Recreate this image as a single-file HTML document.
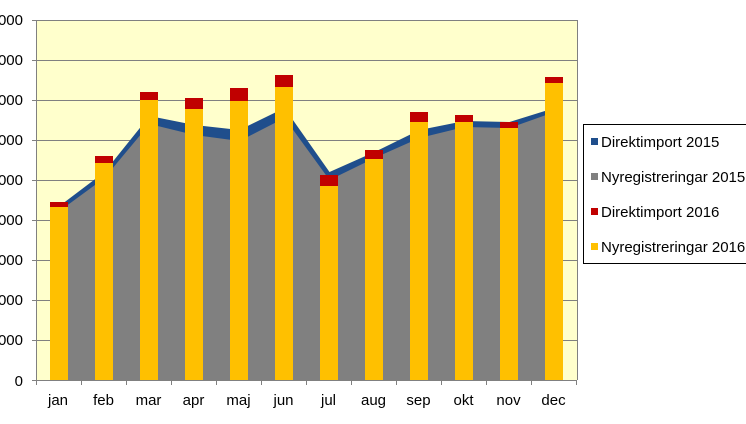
<!DOCTYPE html><html><head><style>body{margin:0;background:#fff;width:746px;height:419px;overflow:hidden}</style></head><body>
<svg width="746" height="419" xmlns="http://www.w3.org/2000/svg" font-family="Liberation Sans, Arial, sans-serif" font-size="14">
<rect x="37" y="20" width="540" height="360" fill="#ffffcc"/>
<g stroke="#808080" stroke-width="1">
<line x1="37" x2="577" y1="20.5" y2="20.5"/><line x1="37" x2="577" y1="60.5" y2="60.5"/><line x1="37" x2="577" y1="100.5" y2="100.5"/><line x1="37" x2="577" y1="140.5" y2="140.5"/><line x1="37" x2="577" y1="180.5" y2="180.5"/><line x1="37" x2="577" y1="220.5" y2="220.5"/><line x1="37" x2="577" y1="260.5" y2="260.5"/><line x1="37" x2="577" y1="300.5" y2="300.5"/><line x1="37" x2="577" y1="340.5" y2="340.5"/>
</g>
<polygon fill="#1f4e8c" points="59.5,380 59.5,206 104.5,172 149.5,116 194.5,125 239.5,130 284.5,108 329.5,172 374.5,152 419.5,130 464.5,121 509.5,122 554.5,108 554.5,380"/>
<polygon fill="#808080" points="59.5,380 59.5,211 104.5,178 149.5,124 194.5,135 239.5,141 284.5,118 329.5,180 374.5,158 419.5,138 464.5,127 509.5,128 554.5,112 554.5,380"/>
<g>
<rect x="50" y="202" width="18" height="178" fill="#c00000"/><rect x="50" y="207" width="18" height="173" fill="#ffc000"/>
<rect x="95" y="156" width="18" height="224" fill="#c00000"/><rect x="95" y="163" width="18" height="217" fill="#ffc000"/>
<rect x="140" y="92" width="18" height="288" fill="#c00000"/><rect x="140" y="100" width="18" height="280" fill="#ffc000"/>
<rect x="185" y="98" width="18" height="282" fill="#c00000"/><rect x="185" y="109" width="18" height="271" fill="#ffc000"/>
<rect x="230" y="88" width="18" height="292" fill="#c00000"/><rect x="230" y="101" width="18" height="279" fill="#ffc000"/>
<rect x="275" y="75" width="18" height="305" fill="#c00000"/><rect x="275" y="87" width="18" height="293" fill="#ffc000"/>
<rect x="320" y="175" width="18" height="205" fill="#c00000"/><rect x="320" y="186" width="18" height="194" fill="#ffc000"/>
<rect x="365" y="150" width="18" height="230" fill="#c00000"/><rect x="365" y="159" width="18" height="221" fill="#ffc000"/>
<rect x="410" y="112" width="18" height="268" fill="#c00000"/><rect x="410" y="122" width="18" height="258" fill="#ffc000"/>
<rect x="455" y="115" width="18" height="265" fill="#c00000"/><rect x="455" y="122" width="18" height="258" fill="#ffc000"/>
<rect x="500" y="122" width="18" height="258" fill="#c00000"/><rect x="500" y="128" width="18" height="252" fill="#ffc000"/>
<rect x="545" y="77" width="18" height="303" fill="#c00000"/><rect x="545" y="83" width="18" height="297" fill="#ffc000"/>
</g>
<g stroke="#808080" stroke-width="1">
<line x1="36.5" y1="20" x2="36.5" y2="385"/><line x1="32" y1="380.5" x2="577" y2="380.5"/>
<line x1="577.5" y1="20" x2="577.5" y2="380"/>
<line x1="32" x2="37" y1="20.5" y2="20.5"/><line x1="32" x2="37" y1="60.5" y2="60.5"/><line x1="32" x2="37" y1="100.5" y2="100.5"/><line x1="32" x2="37" y1="140.5" y2="140.5"/><line x1="32" x2="37" y1="180.5" y2="180.5"/><line x1="32" x2="37" y1="220.5" y2="220.5"/><line x1="32" x2="37" y1="260.5" y2="260.5"/><line x1="32" x2="37" y1="300.5" y2="300.5"/><line x1="32" x2="37" y1="340.5" y2="340.5"/>
<line x1="81.5" x2="81.5" y1="380" y2="385"/><line x1="126.5" x2="126.5" y1="380" y2="385"/><line x1="171.5" x2="171.5" y1="380" y2="385"/><line x1="216.5" x2="216.5" y1="380" y2="385"/><line x1="261.5" x2="261.5" y1="380" y2="385"/><line x1="306.5" x2="306.5" y1="380" y2="385"/><line x1="351.5" x2="351.5" y1="380" y2="385"/><line x1="396.5" x2="396.5" y1="380" y2="385"/><line x1="441.5" x2="441.5" y1="380" y2="385"/><line x1="486.5" x2="486.5" y1="380" y2="385"/><line x1="531.5" x2="531.5" y1="380" y2="385"/><line x1="576.5" x2="576.5" y1="380" y2="385"/>
</g>
<g text-anchor="end" font-size="15">
<text x="23" y="25">90000</text><text x="23" y="65">80000</text><text x="23" y="105">70000</text><text x="23" y="145">60000</text><text x="23" y="185">50000</text><text x="23" y="225">40000</text><text x="23" y="265">30000</text><text x="23" y="305">20000</text><text x="23" y="345">10000</text><text x="23" y="386">0</text>
</g>
<g text-anchor="middle" font-size="15">
<text x="58" y="405">jan</text><text x="103.5" y="405">feb</text><text x="148.5" y="405">mar</text><text x="193.5" y="405">apr</text><text x="238.5" y="405">maj</text><text x="283.5" y="405">jun</text><text x="328.5" y="405">jul</text><text x="373.5" y="405">aug</text><text x="418.5" y="405">sep</text><text x="463.5" y="405">okt</text><text x="508.5" y="405">nov</text><text x="553.5" y="405">dec</text>
</g>
<rect x="583.5" y="124.5" width="170" height="139" fill="#fff" stroke="#000"/>
<g font-size="15">
<rect x="591" y="138" width="7" height="7" fill="#1f4e8c"/><text x="601" y="147">Direktimport 2015</text>
<rect x="591" y="173" width="7" height="7" fill="#808080"/><text x="601" y="182">Nyregistreringar 2015</text>
<rect x="591" y="208" width="7" height="7" fill="#c00000"/><text x="601" y="217">Direktimport 2016</text>
<rect x="591" y="243" width="7" height="7" fill="#ffc000"/><text x="601" y="252">Nyregistreringar 2016</text>
</g>
</svg>
</body></html>
